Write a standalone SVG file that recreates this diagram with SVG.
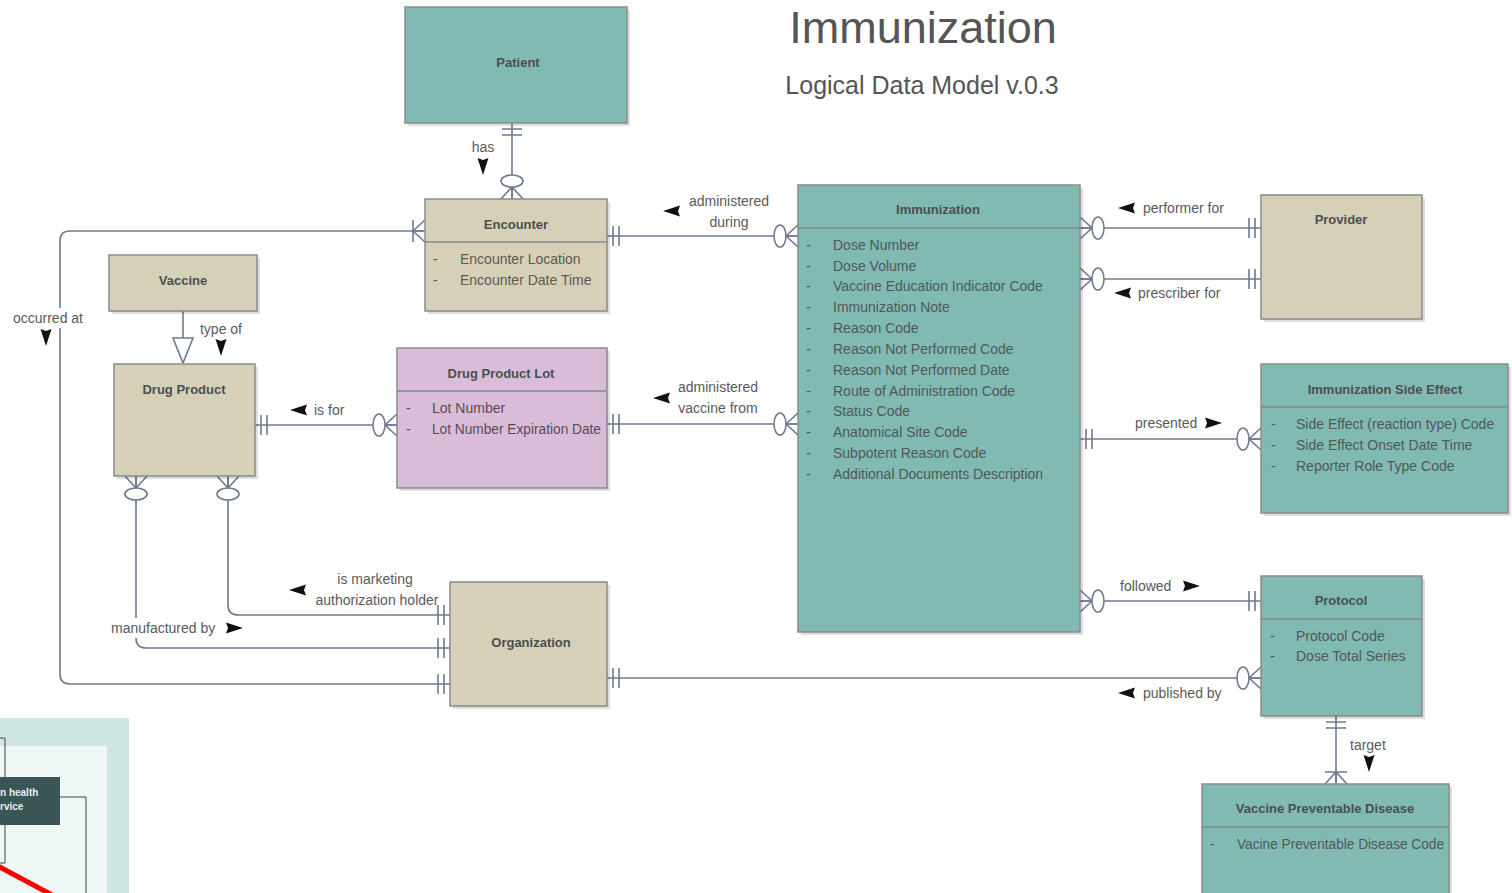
<svg xmlns="http://www.w3.org/2000/svg" xmlns:xlink="http://www.w3.org/1999/xlink" width="1512" height="893" viewBox="0 0 1512 893">
<style>
.box{stroke:#8a8a8a;stroke-width:1.5}
.teal{fill:#80bab3}
.beige{fill:#d7d0b9}
.lot{fill:#d9bdd8}
.shadow{fill:#000;opacity:0.13}
.div{stroke:#7f8a8a;stroke-width:1.3;fill:none}
.hd{font-family:"Liberation Sans",Arial,sans-serif;font-size:13px;font-weight:bold;fill:#4a4f4f;text-anchor:middle}
.at{font-family:"Liberation Sans",Arial,sans-serif;font-size:14px;fill:#505858}
.atp{font-family:"Liberation Sans",Arial,sans-serif;font-size:14px;fill:#5a4a58}
.atb{font-family:"Liberation Sans",Arial,sans-serif;font-size:14px;fill:#5d5a50}
.lbl{font-family:"Liberation Sans",Arial,sans-serif;font-size:14px;fill:#5a5a5a}
.ttl{font-family:"Liberation Sans",Arial,sans-serif;fill:#555;text-anchor:middle}
.ln{stroke:#6e7890;stroke-width:1.6;fill:none}
.sym{stroke:#6e7890;stroke-width:1.6;fill:#fff}
.symn{stroke:#6e7890;stroke-width:1.6;fill:none}
.ar{fill:#111}
.bg{fill:#fff}
</style>
<defs>
<g id="zm"><path class="symn" d="M0,-11 L-12,0 L0,11 M0,0 L-12,0"/><ellipse class="sym" cx="-18" cy="0" rx="6" ry="11"/></g>
<g id="oo"><path class="symn" d="M-6,-10 V10 M-12,-10 V10"/></g>
<g id="om"><path class="symn" d="M0,-11 L-12,0 L0,11 M0,0 L-12,0 M-12,-11 V11"/></g>
<path id="arL" class="ar" d="M0,0 L17,-5.5 L15,0 L17,5.5 Z"/>
</defs>

<rect x="0" y="0" width="1512" height="893" fill="#ffffff"/>

<!-- bottom-left fragment -->
<g id="fragment">
<rect x="0" y="718" width="129" height="175" fill="#cfe6e2"/>
<rect x="0" y="746" width="107" height="147" fill="#eef6f6"/>
<path d="M0,738 H5 V863 H0" fill="none" stroke="#444" stroke-width="1"/>
<path d="M0,797 H86 V893" fill="none" stroke="#444" stroke-width="1"/>
<rect x="0" y="777" width="60" height="48" fill="#3b5454"/>
<text x="0" y="796" font-family="Liberation Sans, Arial, sans-serif" font-size="10" font-weight="bold" fill="#e8eeee">n health</text>
<text x="0" y="810" font-family="Liberation Sans, Arial, sans-serif" font-size="10" font-weight="bold" fill="#e8eeee">rvice</text>
<line x1="-2" y1="866" x2="52" y2="895" stroke="#ff0000" stroke-width="5"/>
</g>

<!-- Title -->
<g id="title">
<text class="ttl" x="923" y="43" font-size="45">Immunization</text>
<text class="ttl" x="922" y="94" font-size="25">Logical Data Model v.0.3</text>
</g>

<!-- Connectors -->
<g id="connectors">
<path class="ln" d="M512,123 V199"/>
<path class="ln" d="M607,236 H798"/>
<path class="ln" d="M607,424 H798"/>
<path class="ln" d="M255,425 H397"/>
<path class="ln" d="M183,311 V338"/>
<polygon points="173,338 193,338 183,363" fill="#fff" stroke="#6e7890" stroke-width="1.6"/>
<path class="ln" d="M1080,228 H1261"/>
<path class="ln" d="M1080,279 H1261"/>
<path class="ln" d="M1080,439 H1261"/>
<path class="ln" d="M1080,601 H1261"/>
<path class="ln" d="M607,678 H1261"/>
<path class="ln" d="M1336,716 V784"/>
<path class="ln" d="M228,476 V605 Q228,615 238,615 H450"/>
<path class="ln" d="M136,476 V638 Q136,648 146,648 H450"/>
<path class="ln" d="M425,231 H70 Q60,231 60,241 V674 Q60,684 70,684 H450"/>

<use href="#oo" transform="translate(512,123) rotate(-90)"/>
<use href="#zm" transform="translate(512,199) rotate(90)"/>
<use href="#oo" transform="translate(607,236) rotate(180)"/>
<use href="#zm" transform="translate(798,236)"/>
<use href="#oo" transform="translate(607,424) rotate(180)"/>
<use href="#zm" transform="translate(798,424)"/>
<use href="#oo" transform="translate(255,425) rotate(180)"/>
<use href="#zm" transform="translate(397,425)"/>
<use href="#zm" transform="translate(1080,228) rotate(180)"/>
<use href="#oo" transform="translate(1261,228)"/>
<use href="#zm" transform="translate(1080,279) rotate(180)"/>
<use href="#oo" transform="translate(1261,279)"/>
<use href="#oo" transform="translate(1080,439) rotate(180)"/>
<use href="#zm" transform="translate(1261,439)"/>
<use href="#zm" transform="translate(1080,601) rotate(180)"/>
<use href="#oo" transform="translate(1261,601)"/>
<use href="#oo" transform="translate(607,678) rotate(180)"/>
<use href="#zm" transform="translate(1261,678)"/>
<use href="#oo" transform="translate(1336,716) rotate(-90)"/>
<use href="#om" transform="translate(1336,784) rotate(90)"/>
<use href="#zm" transform="translate(136,476) rotate(-90)"/>
<use href="#zm" transform="translate(228,476) rotate(-90)"/>
<use href="#oo" transform="translate(450,615)"/>
<use href="#oo" transform="translate(450,648)"/>
<use href="#oo" transform="translate(450,684)"/>
<use href="#om" transform="translate(425,231)"/>

<!-- labels -->
<text class="lbl" x="483" y="152" text-anchor="middle">has</text>
<use href="#arL" transform="translate(483,175) rotate(-90)"/>
<text class="lbl" x="729" y="206" text-anchor="middle">administered</text>
<text class="lbl" x="729" y="227" text-anchor="middle">during</text>
<use href="#arL" transform="translate(663,211)"/>
<text class="lbl" x="718" y="392" text-anchor="middle">administered</text>
<text class="lbl" x="718" y="413" text-anchor="middle">vaccine from</text>
<use href="#arL" transform="translate(653,398)"/>
<text class="lbl" x="221" y="334" text-anchor="middle">type of</text>
<use href="#arL" transform="translate(221,356) rotate(-90)"/>
<rect class="bg" x="9" y="308" width="78" height="20"/>
<text class="lbl" x="48" y="323" text-anchor="middle">occurred at</text>
<use href="#arL" transform="translate(46,346) rotate(-90)"/>
<text class="lbl" x="314" y="415">is for</text>
<use href="#arL" transform="translate(290,410)"/>
<text class="lbl" x="375" y="584" text-anchor="middle">is marketing</text>
<text class="lbl" x="377" y="605" text-anchor="middle">authorization holder</text>
<use href="#arL" transform="translate(289,590)"/>
<rect class="bg" x="108" y="618" width="112" height="20"/>
<text class="lbl" x="111" y="633">manufactured by</text>
<use href="#arL" transform="translate(243,628) rotate(180)"/>
<text class="lbl" x="1143" y="213">performer for</text>
<use href="#arL" transform="translate(1118,208)"/>
<text class="lbl" x="1138" y="298">prescriber for</text>
<use href="#arL" transform="translate(1114,293)"/>
<text class="lbl" x="1135" y="428">presented</text>
<use href="#arL" transform="translate(1222,423) rotate(180)"/>
<text class="lbl" x="1120" y="591">followed</text>
<use href="#arL" transform="translate(1200,586) rotate(180)"/>
<text class="lbl" x="1143" y="698">published by</text>
<use href="#arL" transform="translate(1118,693)"/>
<text class="lbl" x="1350" y="750">target</text>
<use href="#arL" transform="translate(1369,772) rotate(-90)"/>
</g>

<!-- Nodes -->
<g id="patient">
<rect class="shadow" x="408" y="10" width="222" height="116"/>
<rect class="box teal" x="405" y="7" width="222" height="116"/>
<text class="hd" x="518" y="67">Patient</text>
</g>

<g id="encounter">
<rect class="shadow" x="428" y="202" width="182" height="112"/>
<rect class="box beige" x="425" y="199" width="182" height="112"/>
<line class="div" x1="425" y1="242" x2="607" y2="242"/>
<text class="hd" x="516" y="229">Encounter</text>
<text class="atb" x="433" y="264">-</text><text class="atb" x="460" y="264">Encounter Location</text>
<text class="atb" x="433" y="285">-</text><text class="atb" x="460" y="285">Encounter Date Time</text>
</g>

<g id="vaccine">
<rect class="shadow" x="112" y="258" width="148" height="56"/>
<rect class="box beige" x="109" y="255" width="148" height="56"/>
<text class="hd" x="183" y="285">Vaccine</text>
</g>

<g id="drug-product">
<rect class="shadow" x="117" y="367" width="141" height="112"/>
<rect class="box beige" x="114" y="364" width="141" height="112"/>
<text class="hd" x="184" y="394">Drug Product</text>
</g>

<g id="drug-product-lot">
<rect class="shadow" x="400" y="351" width="210" height="140"/>
<rect class="box lot" x="397" y="348" width="210" height="140"/>
<line class="div" x1="397" y1="391" x2="607" y2="391"/>
<text class="hd" x="501" y="378">Drug Product Lot</text>
<text class="atp" x="406" y="413">-</text><text class="atp" x="432" y="413">Lot Number</text>
<text class="atp" x="406" y="434">-</text><text class="atp" x="432" y="434" textLength="169" lengthAdjust="spacingAndGlyphs">Lot Number Expiration Date</text>
</g>

<g id="immunization">
<rect class="shadow" x="801" y="188" width="282" height="447"/>
<rect class="box teal" x="798" y="185" width="282" height="447"/>
<line class="div" x1="798" y1="228" x2="1080" y2="228"/>
<text class="hd" x="938" y="214">Immunization</text>
<g class="at">
<text x="806" y="250">-</text><text x="833" y="250">Dose Number</text>
<text x="806" y="271">-</text><text x="833" y="271">Dose Volume</text>
<text x="806" y="291">-</text><text x="833" y="291">Vaccine Education Indicator Code</text>
<text x="806" y="312">-</text><text x="833" y="312">Immunization Note</text>
<text x="806" y="333">-</text><text x="833" y="333">Reason Code</text>
<text x="806" y="354">-</text><text x="833" y="354">Reason Not Performed Code</text>
<text x="806" y="375">-</text><text x="833" y="375">Reason Not Performed Date</text>
<text x="806" y="396">-</text><text x="833" y="396">Route of Administration Code</text>
<text x="806" y="416">-</text><text x="833" y="416">Status Code</text>
<text x="806" y="437">-</text><text x="833" y="437">Anatomical Site Code</text>
<text x="806" y="458">-</text><text x="833" y="458">Subpotent Reason Code</text>
<text x="806" y="479">-</text><text x="833" y="479">Additional Documents Description</text>
</g>
</g>

<g id="provider">
<rect class="shadow" x="1264" y="198" width="161" height="124"/>
<rect class="box beige" x="1261" y="195" width="161" height="124"/>
<text class="hd" x="1341" y="224">Provider</text>
</g>

<g id="side-effect">
<rect class="shadow" x="1264" y="367" width="247" height="149"/>
<rect class="box teal" x="1261" y="364" width="247" height="149"/>
<line class="div" x1="1261" y1="407" x2="1508" y2="407"/>
<text class="hd" x="1385" y="394">Immunization Side Effect</text>
<g class="at">
<text x="1271" y="429">-</text><text x="1296" y="429">Side Effect (reaction type) Code</text>
<text x="1271" y="450">-</text><text x="1296" y="450">Side Effect Onset Date Time</text>
<text x="1271" y="471">-</text><text x="1296" y="471">Reporter Role Type Code</text>
</g>
</g>

<g id="protocol">
<rect class="shadow" x="1264" y="579" width="161" height="140"/>
<rect class="box teal" x="1261" y="576" width="161" height="140"/>
<line class="div" x1="1261" y1="619" x2="1422" y2="619"/>
<text class="hd" x="1341" y="605">Protocol</text>
<g class="at">
<text x="1270" y="641">-</text><text x="1296" y="641">Protocol Code</text>
<text x="1270" y="661">-</text><text x="1296" y="661">Dose Total Series</text>
</g>
</g>

<g id="vaccine-preventable-disease">
<rect class="shadow" x="1205" y="787" width="247" height="120"/>
<rect class="box teal" x="1202" y="784" width="247" height="120"/>
<line class="div" x1="1202" y1="827" x2="1449" y2="827"/>
<text class="hd" x="1325" y="813">Vaccine Preventable Disease</text>
<text class="at" x="1210" y="849">-</text><text class="at" x="1237" y="849" textLength="207" lengthAdjust="spacingAndGlyphs">Vacine Preventable Disease Code</text>
</g>

<g id="organization">
<rect class="shadow" x="453" y="585" width="157" height="124"/>
<rect class="box beige" x="450" y="582" width="157" height="124"/>
<text class="hd" x="531" y="647">Organization</text>
</g>
</svg>
